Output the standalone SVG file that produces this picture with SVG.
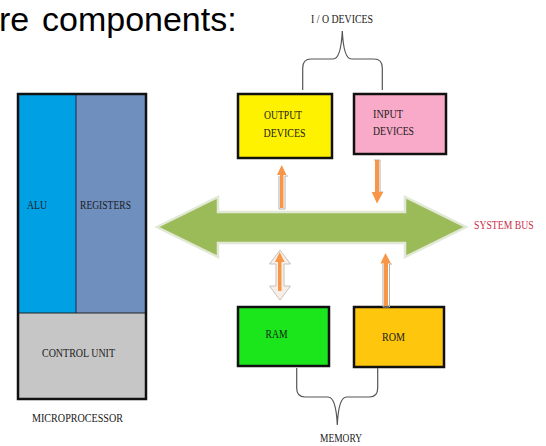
<svg xmlns="http://www.w3.org/2000/svg" width="546" height="446" viewBox="0 0 546 446">
  <style>
    .lbl { font-family: "Liberation Serif", "Times New Roman", serif; font-size: 13.5px; fill: #1a1a1a; }
    .box { stroke: #111; stroke-width: 2.5; }
    .brace { fill: none; stroke: #555; stroke-width: 1.2; }
    .orange { fill: #F79646; }
    .shadow { fill: none; stroke: #b9aea6; stroke-width: 1; }
  </style>
  <rect width="546" height="446" fill="#ffffff"/>

  <!-- heading fragment -->
  <text font-family="'Liberation Sans', Arial, sans-serif" font-size="34" fill="#000"><tspan x="-1" y="31">re</tspan><tspan x="42" y="31">components:</tspan></text>

  <!-- microprocessor -->
  <g id="microprocessor">
    <rect x="18" y="94" width="58" height="219" fill="#00A0E4"/>
    <rect x="76" y="94" width="70" height="219" fill="#6F8FBF"/>
    <rect x="18" y="313" width="128" height="86" fill="#C6C6C6"/>
    <line x1="76" y1="94" x2="76" y2="313" stroke="#1b2b44" stroke-width="1"/>
    <line x1="18" y1="313" x2="146" y2="313" stroke="#222" stroke-width="1"/>
    <rect x="18" y="94" width="128" height="305" fill="none" class="box"/>
    <text class="lbl" x="27" y="209" textLength="20" lengthAdjust="spacingAndGlyphs">ALU</text>
    <text class="lbl" x="80" y="209" textLength="51" lengthAdjust="spacingAndGlyphs">REGISTERS</text>
    <text class="lbl" x="42" y="357" textLength="73" lengthAdjust="spacingAndGlyphs">CONTROL UNIT</text>
    <text class="lbl" x="32" y="422" textLength="91" lengthAdjust="spacingAndGlyphs">MICROPROCESSOR</text>
  </g>

  <!-- I/O devices -->
  <g id="output-devices">
    <rect x="238" y="94" width="94" height="64" fill="#FFF200" class="box"/>
    <text class="lbl" x="264" y="119" textLength="38" lengthAdjust="spacingAndGlyphs">OUTPUT</text>
    <text class="lbl" x="263.5" y="137" textLength="42" lengthAdjust="spacingAndGlyphs">DEVICES</text>
  </g>
  <g id="input-devices">
    <rect x="354" y="94" width="92" height="60" fill="#F9AAC9" class="box"/>
    <text class="lbl" x="373" y="118" textLength="30" lengthAdjust="spacingAndGlyphs">INPUT</text>
    <text class="lbl" x="373" y="135" textLength="41" lengthAdjust="spacingAndGlyphs">DEVICES</text>
  </g>
  <g id="io-devices">
    <path class="brace" d="M302.7 90 L302.7 68 Q302.7 59 311 59 L333 59 Q341 59 342.3 31 Q343.6 59 351.5 59 L374 59 Q382.3 59 382.3 68 L382.3 90"/>
    <text class="lbl" x="311" y="23" textLength="62" lengthAdjust="spacingAndGlyphs">I / O DEVICES</text>
  </g>

  <!-- memory -->
  <g id="ram">
    <rect x="238" y="307" width="91" height="59" fill="#1BE51B" class="box"/>
    <text class="lbl" x="265.5" y="338" textLength="22" lengthAdjust="spacingAndGlyphs">RAM</text>
  </g>
  <g id="rom">
    <rect x="354" y="307" width="90" height="60" fill="#FFC60E" class="box"/>
    <text class="lbl" x="382" y="341" textLength="23" lengthAdjust="spacingAndGlyphs">ROM</text>
  </g>
  <g id="memory">
    <path class="brace" d="M296.7 368 L296.7 388 Q296.7 397 305 397 L328 397 Q336 397 337.3 425 Q338.6 397 346.5 397 L369.5 397 Q377.7 397 377.7 388 L377.7 368"/>
    <text class="lbl" x="320" y="442" textLength="42" lengthAdjust="spacingAndGlyphs">MEMORY</text>
  </g>

  <!-- system bus -->
  <g id="system-bus">
    <polygon points="157,227 218,197 218,212 405,212 405,197 466,227 405,257 405,243 218,243 218,257" fill="#9BBB59" stroke="#e2e8d6" stroke-width="2.5" stroke-linejoin="miter"/>
    <text transform="translate(474 229) scale(0.72 1)" x="0" y="0" font-family="'Liberation Serif', 'Times New Roman', serif" font-size="13.5" fill="#C8304A">SYSTEM BUS</text>
  </g>

  <!-- connectors -->
  <g id="connectors">
    <!-- bus to output devices -->
    <polyline class="shadow" points="279,176 279,209 285,209 285,176 288,176"/>
    <polygon class="orange" points="281.7,165 277,175 280,175 280,208 283.5,208 283.5,175 286.5,175"/>
    <!-- input devices to bus -->
    <polyline class="shadow" points="374,160 380,160 380,192 383,192"/>
    <polygon class="orange" points="375,160 379,160 379,192 383.3,192 377,203.5 371.7,192 375,192"/>
    <!-- bus to/from RAM -->
    <polygon points="280,250 290.5,264 284,264 284,286 290.5,286 280,300 269.5,286 276,286 276,264 269.5,264" fill="#f5eee9" stroke="#cbc1ba" stroke-width="1"/>
    <polygon class="orange" points="279.7,252 275,262 278,262 278,291 281.5,291 281.5,262 284.5,262"/>
    <!-- ROM to bus -->
    <polyline class="shadow" points="383,264 383,307 389.5,307 389.5,264 392,264"/>
    <polygon class="orange" points="385.5,253 380.5,263.5 384,263.5 384,306 388,306 388,263.5 391,263.5"/>
  </g>
</svg>
